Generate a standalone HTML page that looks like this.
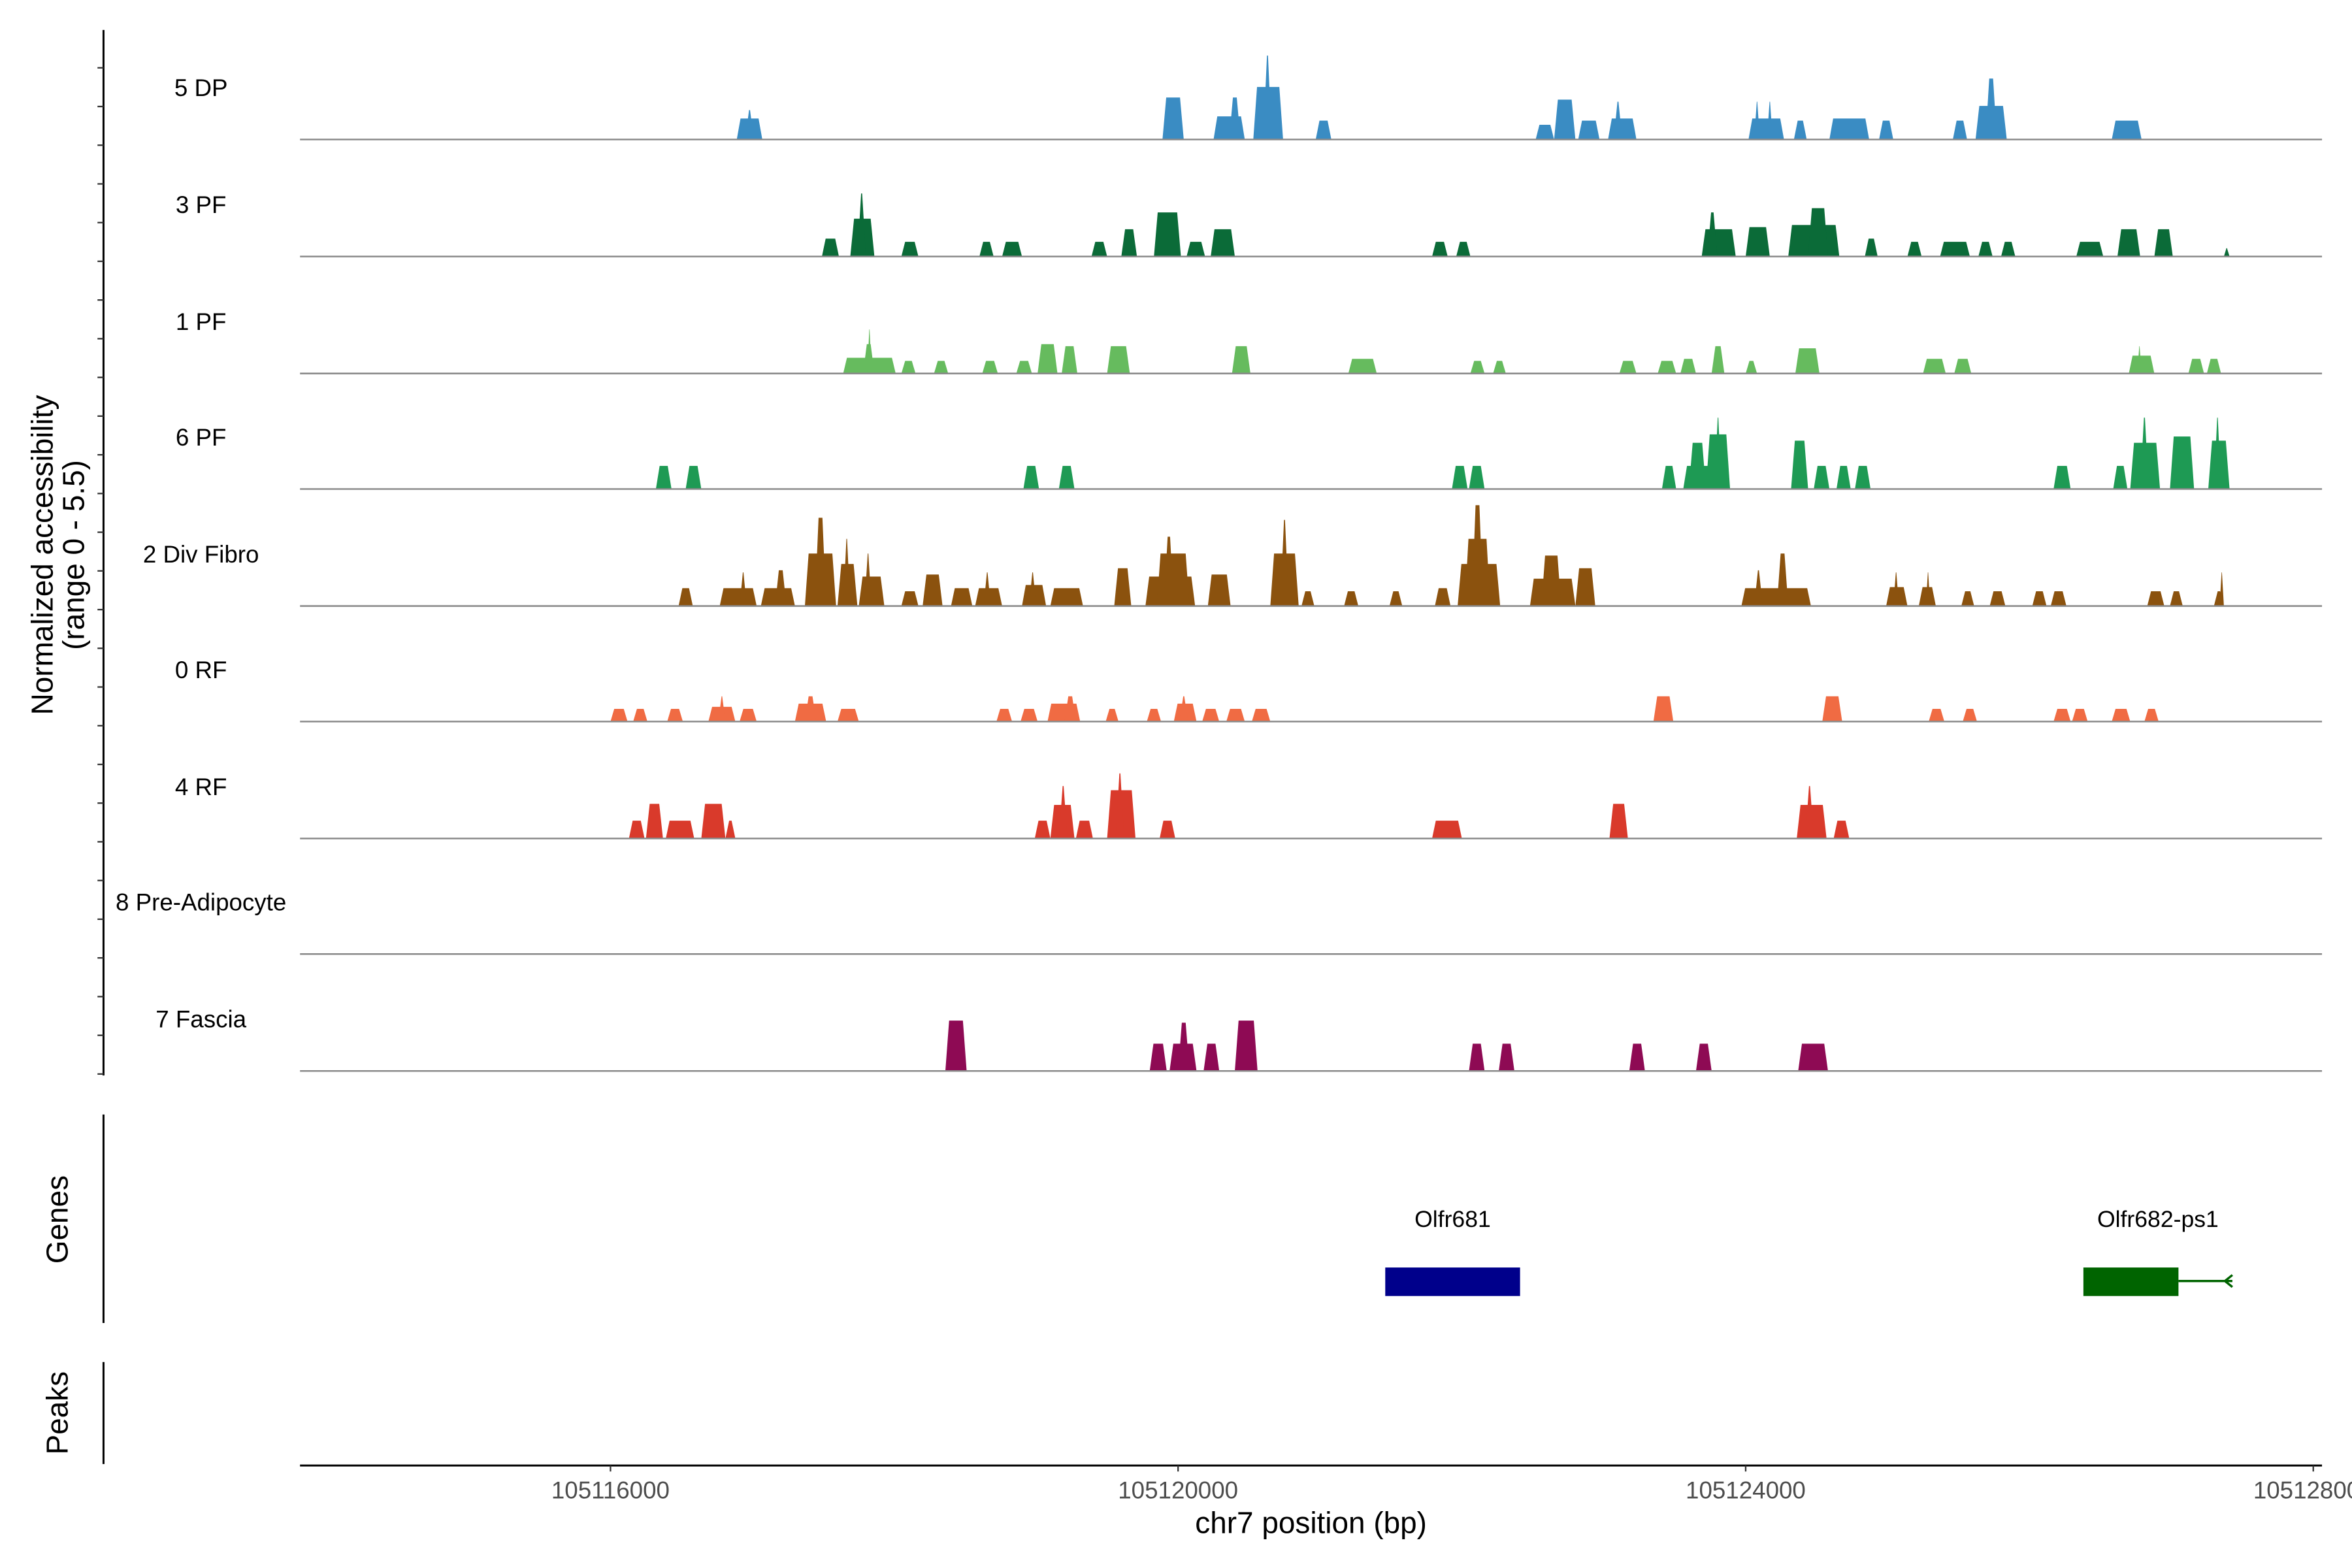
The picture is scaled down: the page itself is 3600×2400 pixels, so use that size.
<!DOCTYPE html>
<html><head><meta charset="utf-8"><style>
html,body{margin:0;padding:0;background:#fff;}
svg{display:block;font-family:"Liberation Sans",Arial,sans-serif;}
</style></head><body>
<svg id="chart" width="3600" height="2400" viewBox="0 0 1568 1045.33" xmlns="http://www.w3.org/2000/svg">
<rect x="0" y="0" width="1568" height="1046" fill="#fff"/>
<g id="tracks"></g>
<g id="axes"></g>
</svg>
<script>
// ---- data (kb positions, normalized accessibility) ----
const trackNames = ["5 DP","3 PF","1 PF","6 PF","2 Div Fibro","0 RF","4 RF","8 Pre-Adipocyte","7 Fascia"];
const trackColors = ["#3A8CC3","#0B6B38","#66BB5E","#1E9A54","#8B520E","#F06B43","#D93A2B","#888888","#8E0A54"];
const peaks5DP = [[105116.89,105117.07,1.0],[105116.95,105117.01,1.4],[105119.89,105120.04,2.0],[105120.25,105120.47,1.1],[105120.36,105120.44,2.0],[105120.53,105120.74,2.5],[105120.60,105120.66,4.0],[105120.97,105121.08,0.9],[105122.52,105122.65,0.7],[105122.65,105122.80,1.9],[105122.82,105122.97,0.9],[105123.03,105123.23,1.0],[105123.07,105123.13,1.8],[105124.02,105124.27,1.0],[105124.06,105124.10,1.8],[105124.15,105124.19,1.8],[105124.34,105124.43,0.9],[105124.59,105124.87,1.0],[105124.94,105125.04,0.9],[105125.46,105125.56,0.9],[105125.62,105125.84,1.6],[105125.69,105125.77,2.9],[105126.58,105126.79,0.9]];
const peaks3PF = [[105117.49,105117.61,0.85],[105117.69,105117.86,1.8],[105117.74,105117.80,3.0],[105118.05,105118.17,0.7],[105118.60,105118.70,0.7],[105118.76,105118.90,0.7],[105119.39,105119.50,0.7],[105119.60,105119.71,1.3],[105119.83,105120.02,2.1],[105120.06,105120.19,0.7],[105120.23,105120.40,1.3],[105121.79,105121.90,0.7],[105121.96,105122.06,0.7],[105123.69,105123.93,1.3],[105123.73,105123.80,2.1],[105124.00,105124.17,1.4],[105124.30,105124.66,1.5],[105124.44,105124.58,2.3],[105124.84,105124.93,0.85],[105125.14,105125.24,0.7],[105125.37,105125.58,0.7],[105125.64,105125.74,0.7],[105125.80,105125.90,0.7],[105126.33,105126.52,0.7],[105126.62,105126.78,1.3],[105126.88,105127.01,1.3],[105127.37,105127.41,0.4]];
const peaks1PF = [[105117.64,105118.01,0.75],[105117.78,105117.86,1.4],[105117.81,105117.84,2.1],[105118.05,105118.15,0.6],[105118.28,105118.38,0.6],[105118.62,105118.73,0.6],[105118.86,105118.97,0.6],[105119.01,105119.15,1.4],[105119.18,105119.29,1.3],[105119.50,105119.66,1.3],[105120.38,105120.51,1.3],[105121.20,105121.40,0.7],[105122.06,105122.16,0.6],[105122.22,105122.31,0.6],[105123.11,105123.23,0.6],[105123.38,105123.51,0.6],[105123.54,105123.65,0.7],[105123.76,105123.85,1.3],[105124.00,105124.08,0.6],[105124.35,105124.52,1.2],[105125.25,105125.41,0.7],[105125.47,105125.59,0.7],[105126.70,105126.88,0.85],[105126.76,105126.79,1.3],[105127.12,105127.23,0.7],[105127.25,105127.35,0.7]];
const peaks6PF = [[105116.32,105116.43,1.1],[105116.53,105116.64,1.1],[105118.91,105119.02,1.1],[105119.16,105119.27,1.1],[105121.93,105122.04,1.1],[105122.05,105122.16,1.1],[105123.41,105123.51,1.1],[105123.56,105123.89,1.1],[105123.60,105123.72,2.2],[105123.72,105123.89,2.6],[105123.78,105123.83,3.4],[105124.32,105124.44,2.3],[105124.48,105124.59,1.1],[105124.64,105124.74,1.1],[105124.77,105124.88,1.1],[105126.17,105126.29,1.1],[105126.59,105126.69,1.1],[105126.71,105126.92,2.2],[105126.78,105126.84,3.4],[105126.99,105127.16,2.5],[105127.26,105127.41,2.3],[105127.30,105127.35,3.4]];
const peaksDivFibro = [[105116.48,105116.58,0.85],[105116.77,105117.03,0.85],[105116.91,105116.96,1.6],[105117.06,105117.30,0.85],[105117.16,105117.24,1.7],[105117.37,105117.59,2.5],[105117.44,105117.52,4.2],[105117.60,105117.74,2.0],[105117.64,105117.69,3.2],[105117.75,105117.93,1.4],[105117.79,105117.84,2.5],[105118.05,105118.17,0.7],[105118.20,105118.34,1.5],[105118.40,105118.55,0.85],[105118.57,105118.76,0.85],[105118.63,105118.68,1.6],[105118.90,105119.07,1.0],[105118.95,105119.00,1.6],[105119.10,105119.33,0.85],[105119.55,105119.67,1.8],[105119.77,105120.12,1.4],[105119.85,105120.08,2.5],[105119.90,105119.97,3.3],[105120.21,105120.37,1.5],[105120.65,105120.85,2.5],[105120.72,105120.78,4.1],[105120.87,105120.96,0.7],[105121.17,105121.27,0.7],[105121.49,105121.58,0.7],[105121.81,105121.92,0.85],[105121.97,105122.27,2.0],[105122.02,105122.20,3.2],[105122.07,105122.15,4.8],[105122.48,105122.80,1.3],[105122.56,105122.70,2.4],[105122.80,105122.94,1.8],[105123.97,105124.46,0.85],[105124.06,105124.12,1.7],[105124.22,105124.30,2.5],[105124.99,105125.14,0.9],[105125.04,105125.08,1.6],[105125.22,105125.34,0.9],[105125.27,105125.30,1.6],[105125.52,105125.61,0.7],[105125.72,105125.83,0.7],[105126.02,105126.12,0.7],[105126.15,105126.26,0.7],[105126.83,105126.95,0.7],[105126.99,105127.08,0.7],[105127.30,105127.37,0.7],[105127.34,105127.37,1.6]];
const peaks0RF = [[105116.00,105116.12,0.6],[105116.16,105116.26,0.6],[105116.40,105116.51,0.6],[105116.69,105116.88,0.7],[105116.76,105116.81,1.2],[105116.91,105117.03,0.6],[105117.30,105117.52,0.85],[105117.37,105117.45,1.2],[105117.60,105117.75,0.6],[105118.72,105118.83,0.6],[105118.89,105119.01,0.6],[105119.08,105119.31,0.85],[105119.20,105119.28,1.2],[105119.49,105119.58,0.6],[105119.78,105119.88,0.6],[105119.97,105120.13,0.85],[105120.01,105120.07,1.2],[105120.17,105120.29,0.6],[105120.34,105120.47,0.6],[105120.52,105120.65,0.6],[105123.35,105123.49,1.2],[105124.54,105124.68,1.2],[105125.29,105125.40,0.6],[105125.53,105125.63,0.6],[105126.17,105126.29,0.6],[105126.30,105126.41,0.6],[105126.58,105126.71,0.6],[105126.81,105126.91,0.6]];
const peaks4RF = [[105116.13,105116.24,0.85],[105116.25,105116.37,1.65],[105116.39,105116.59,0.85],[105116.64,105116.81,1.65],[105116.81,105116.88,0.85],[105118.99,105119.10,0.85],[105119.10,105119.27,1.6],[105119.16,105119.22,2.5],[105119.28,105119.40,0.85],[105119.50,105119.70,2.3],[105119.56,105119.62,3.1],[105119.87,105119.98,0.85],[105121.79,105122.00,0.85],[105123.04,105123.17,1.65],[105124.36,105124.57,1.6],[105124.42,105124.48,2.5],[105124.62,105124.73,0.85]];
const peaksPreAdipocyte = [];
const peaksFascia = [[105118.36,105118.51,2.4],[105119.80,105119.92,1.3],[105119.94,105120.13,1.3],[105120.00,105120.08,2.3],[105120.18,105120.29,1.3],[105120.40,105120.56,2.4],[105122.05,105122.16,1.3],[105122.26,105122.37,1.3],[105123.18,105123.29,1.3],[105123.65,105123.76,1.3],[105124.37,105124.58,1.3]];
const allPeaks = [peaks5DP,peaks3PF,peaks1PF,peaks6PF,peaksDivFibro,peaks0RF,peaks4RF,peaksPreAdipocyte,peaksFascia];
const xTicks = [105116000,105120000,105124000,105128000];
const geneNames = ["Olfr681","Olfr682-ps1"];
const geneStarts = [105121.46,105126.38];
const geneEnds = [105122.41,105127.43];
const geneExonEnds = [105122.41,105127.05];
const geneColors = ["#00008B","#006400"];

// ---- scales ----
const X0=200, X1=1548, KB0=105113.812, PXPERKB=94.6;
function xs(kb){return X0+(kb-KB0)*PXPERKB;}
const baselines=[93,171,249,326,404,481,559,636,714];
const PXPERUNIT=14;
function ys(t,v){return baselines[t]-v*PXPERUNIT;}

const NS="http://www.w3.org/2000/svg";
function mk(tag,attrs,parent){const e=document.createElementNS(NS,tag);for(const k in attrs)e.setAttribute(k,attrs[k]);parent.appendChild(e);return e;}
const tg=document.getElementById('tracks');
const ag=document.getElementById('axes');

allPeaks.forEach((arr,t)=>{
  const g=mk('g',{},tg);
  
  
  const lab=mk('text',{x:134,y:baselines[t]-29,'text-anchor':'middle','font-size':16,fill:'#000'},g);
  lab.textContent=trackNames[t];
  
  
  arr.forEach(p=>{
    const a=xs(p[0]),b=xs(p[1]),base=baselines[t],top=ys(t,p[2]);
    const s=Math.min(2.5,(b-a)/2.2);
    const poly=mk('polygon',{points:`${a},${base} ${a+s},${top} ${b-s},${top} ${b},${base}`,fill:trackColors[t]},g);
    
    
  });
  const bl=mk('line',{x1:X0,x2:X1,y1:baselines[t],y2:baselines[t],stroke:'#8a8a8a','stroke-width':1.1},g);
  
  
});

// left axis
const la=mk('line',{x1:69,x2:69,y1:20,y2:717,stroke:'#000','stroke-width':1.3},ag);


for(let k=0;k<27;k++){const y=716-k*25.8;const tk=mk('line',{x1:65,x2:69,y1:y,y2:y,stroke:'#333','stroke-width':1},ag);

}
const yt=mk('text',{transform:'translate(35,370) rotate(-90)','text-anchor':'middle','font-size':20},ag);


yt.innerHTML='<tspan x="0" dy="0">Normalized accessibility</tspan><tspan x="0" dy="21">(range 0 - 5.5)</tspan>';

// genes panel
const gl=mk('line',{x1:69,x2:69,y1:743,y2:882,stroke:'#000','stroke-width':1.3},ag);


const gt=mk('text',{transform:'translate(45,813) rotate(-90)','text-anchor':'middle','font-size':20},ag);
gt.textContent='Genes';


geneNames.forEach((n,i)=>{
  const g=mk('g',{},ag);
  
  
  const a=xs(geneStarts[i]),e=xs(geneExonEnds[i]),b=xs(geneEnds[i]);
  if(b>e){mk('line',{x1:e,x2:b,y1:854,y2:854,stroke:geneColors[i],'stroke-width':1.5},g);
    mk('polyline',{points:`${b},850 ${b-5},854 ${b},858`,fill:'none',stroke:geneColors[i],'stroke-width':1.5},g);}
  mk('rect',{x:a,y:845,width:e-a,height:19,fill:geneColors[i]},g);
  const t=mk('text',{x:(a+b)/2,y:818,'text-anchor':'middle','font-size':15.5},g);
  t.textContent=n;
});

// peaks panel
const pl=mk('line',{x1:69,x2:69,y1:908,y2:976,stroke:'#000','stroke-width':1.3},ag);


const pt=mk('text',{transform:'translate(45,942) rotate(-90)','text-anchor':'middle','font-size':20},ag);
pt.textContent='Peaks';



// x axis
const xa=mk('line',{x1:X0,x2:X1,y1:977,y2:977,stroke:'#000','stroke-width':1.3},ag);


xTicks.forEach(v=>{
  const x=xs(v/1000);
  const tk=mk('line',{x1:x,x2:x,y1:977,y2:981,stroke:'#333','stroke-width':1},ag);
  
  
  const t=mk('text',{x:x,y:999,'text-anchor':'middle','font-size':16,fill:'#4d4d4d'},ag);
  t.textContent=String(v);
  
  
});
const xt=mk('text',{x:874,y:1022,'text-anchor':'middle','font-size':20},ag);
xt.textContent='chr7 position (bp)';


</script>
</body></html>
